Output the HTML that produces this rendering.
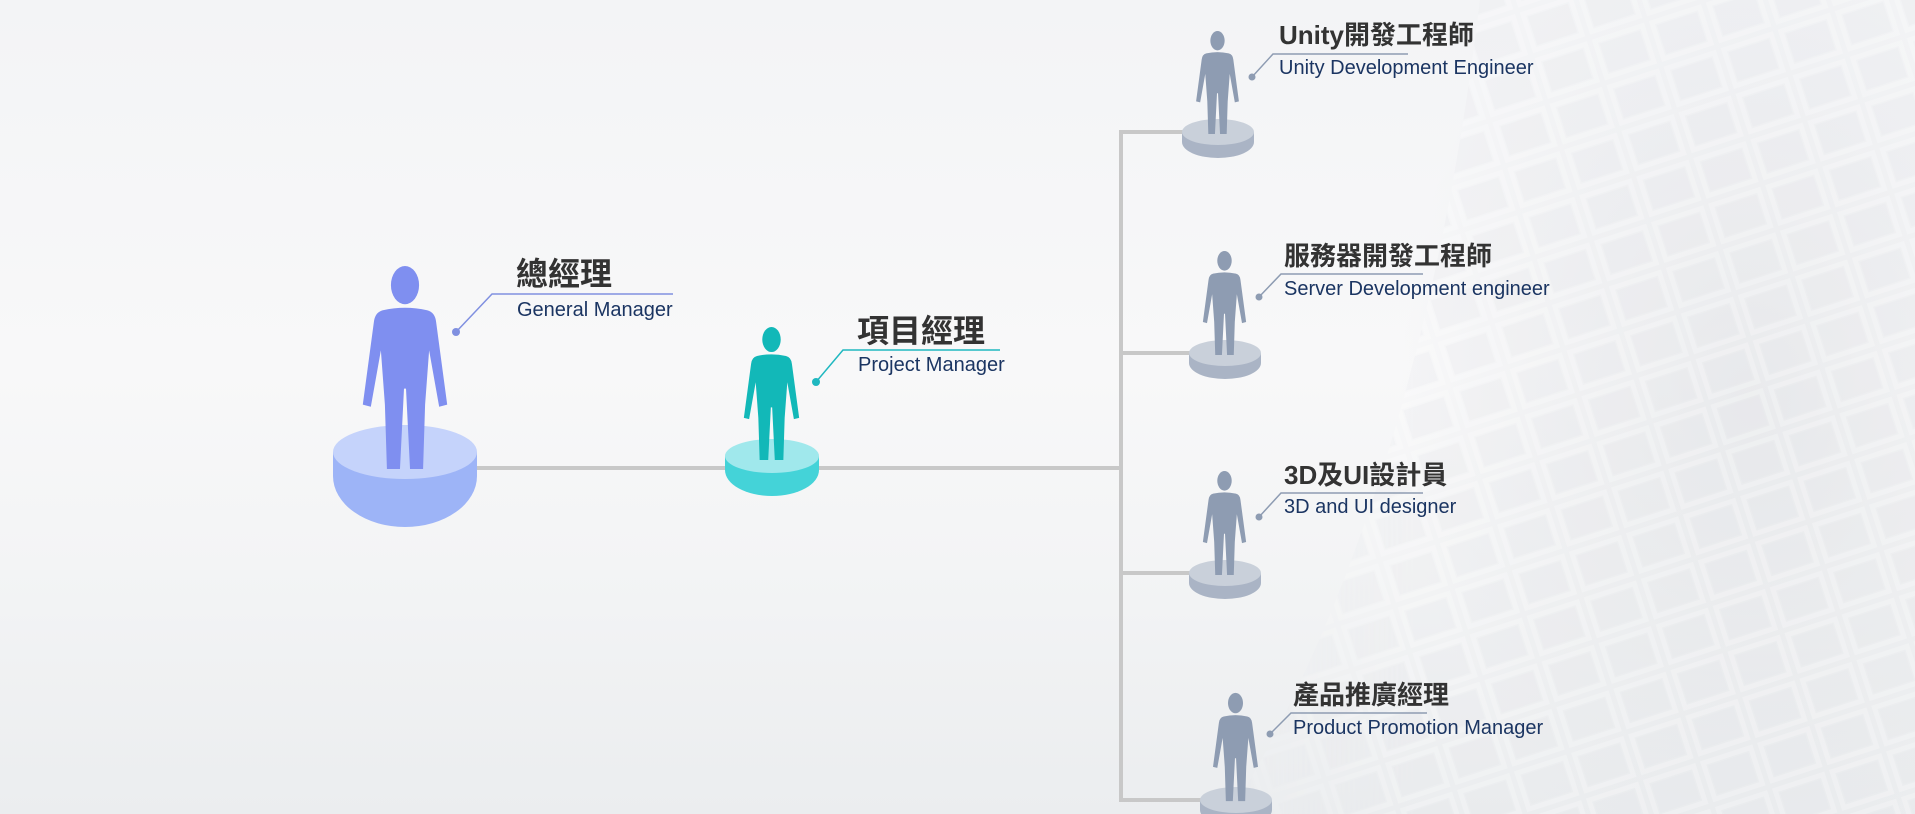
<!DOCTYPE html>
<html><head><meta charset="utf-8"><style>
html,body{margin:0;padding:0;}
body{width:1915px;height:814px;overflow:hidden;position:relative;
background:
radial-gradient(ellipse 500px 700px at 1750px 400px, rgba(215,218,222,0.45), rgba(230,232,235,0) 70%),
linear-gradient(180deg,#f3f4f6 0%,#f8f8f9 45%,#f3f4f5 70%,#ebedef 100%);
font-family:"Liberation Sans","Noto Sans CJK TC",sans-serif;}
svg{position:absolute;left:0;top:0}
.t{font-family:"Liberation Sans","Noto Sans CJK TC",sans-serif;font-weight:bold;fill:#333}
.s{font-family:"Liberation Sans","Noto Sans CJK TC",sans-serif;fill:#1b3562}
</style></head><body>
<svg width="1915" height="814" viewBox="0 0 1915 814">
<defs>
<pattern id="bld" width="60" height="48" patternUnits="userSpaceOnUse" patternTransform="rotate(-18)">
<rect x="4" y="4" width="50" height="38" fill="none" stroke="#ffffff" stroke-width="5" opacity="0.7"/>
<rect x="8" y="8" width="42" height="30" fill="#e2e4e8" opacity="0.5"/>
</pattern>
<linearGradient id="fade" x1="0" y1="0" x2="1" y2="0">
<stop offset="0" stop-color="#fff" stop-opacity="0"/><stop offset="0.3" stop-color="#fff" stop-opacity="1"/>
</linearGradient>
<mask id="m"><rect x="1200" y="0" width="715" height="814" fill="url(#fade)"/></mask>
<symbol id="p" viewBox="0 0 84 202">
<ellipse cx="42" cy="19" rx="14" ry="19"/>
<path d="M20 44 Q42 39 64 44 Q72 46 73 56 L84 138 L76 140 L66 84 L62 138 L60 202 L47 202 L43 122 L41 122 L37 202 L24 202 L22 138 L18 84 L8 140 L0 138 L11 56 Q12 46 20 44 Z"/>
</symbol>
</defs>
<g mask="url(#m)"><path d="M1480 0 L1915 0 L1915 814 L1230 814 Q1420 500 1480 0 Z" fill="url(#bld)" opacity="0.35"/></g>
<!-- connectors -->
<g stroke="#c8c8c8" stroke-width="4" fill="none">
<line x1="470" y1="468" x2="1121" y2="468"/>
<line x1="1121" y1="132" x2="1121" y2="802"/>
<line x1="1119" y1="132" x2="1200" y2="132"/>
<line x1="1119" y1="353" x2="1200" y2="353"/>
<line x1="1119" y1="573" x2="1200" y2="573"/>
<line x1="1119" y1="800" x2="1210" y2="800"/>
</g>
<!-- GM -->
<ellipse cx="405" cy="476" rx="72" ry="51" fill="#9db4f7"/>
<rect x="333" y="452" width="144" height="24" fill="#9db4f7"/>
<ellipse cx="405" cy="452" rx="72" ry="27" fill="#c5d3fb"/>
<use href="#p" x="361" y="266" width="88" height="203" fill="#7f8ff0"/>
<!-- PM -->
<ellipse cx="772" cy="470" rx="47" ry="26" fill="#44d3d8"/>
<rect x="725" y="456" width="94" height="14" fill="#44d3d8"/>
<ellipse cx="772" cy="456" rx="47" ry="17" fill="#a0e8ec"/>
<use href="#p" x="743" y="327" width="57" height="133" fill="#12b8b8"/>
<!-- small -->
<g fill="#aab4c5">
<ellipse cx="1218" cy="142" rx="36" ry="16"/><rect x="1182" y="132" width="72" height="10"/>
<ellipse cx="1225" cy="363" rx="36" ry="16"/><rect x="1189" y="353" width="72" height="10"/>
<ellipse cx="1225" cy="583" rx="36" ry="16"/><rect x="1189" y="573" width="72" height="10"/>
<ellipse cx="1236" cy="810" rx="36" ry="16"/><rect x="1200" y="800" width="72" height="10"/>
</g>
<g fill="#c9d0da">
<ellipse cx="1218" cy="132" rx="36" ry="13"/>
<ellipse cx="1225" cy="353" rx="36" ry="13"/>
<ellipse cx="1225" cy="573" rx="36" ry="13"/>
<ellipse cx="1236" cy="800" rx="36" ry="13"/>
</g>
<g fill="#8e9cb2">
<use href="#p" x="1195" y="31" width="45" height="103"/>
<use href="#p" x="1202" y="251" width="45" height="104"/>
<use href="#p" x="1202" y="471" width="45" height="104"/>
<use href="#p" x="1213" y="692" width="45" height="110"/>
</g>
<!-- leaders -->
<g fill="none" stroke-width="1.5">
<path d="M456 332 L492 294 L673 294" stroke="#8090e0"/>
<path d="M816 382 L843 350 L1000 350" stroke="#20b8c0"/>
<path d="M1252 77 L1273 54 L1408 54" stroke="#8e9cb2"/>
<path d="M1259 297 L1281 274 L1423 274" stroke="#8e9cb2"/>
<path d="M1259 517 L1281 493 L1423 493" stroke="#8e9cb2"/>
<path d="M1270 734 L1291 713 L1427 713" stroke="#8e9cb2"/>
</g>
<circle cx="456" cy="332" r="4" fill="#8090e0"/>
<circle cx="816" cy="382" r="4" fill="#20b8c0"/>
<g fill="#8e9cb2">
<circle cx="1252" cy="77" r="3.5"/><circle cx="1259" cy="297" r="3.5"/>
<circle cx="1259" cy="517" r="3.5"/><circle cx="1270" cy="734" r="3.5"/>
</g>
<!-- labels -->
<text class="t" x="516" y="285" font-size="32">總經理</text>
<text class="s" x="517" y="316" font-size="20">General Manager</text>
<text class="t" x="857" y="342" font-size="32">項目經理</text>
<text class="s" x="858" y="371" font-size="20">Project Manager</text>
<text class="t" x="1279" y="44" font-size="26">Unity開發工程師</text>
<text class="s" x="1279" y="74" font-size="20">Unity Development Engineer</text>
<text class="t" x="1284" y="265" font-size="26">服務器開發工程師</text>
<text class="s" x="1284" y="295" font-size="20">Server Development engineer</text>
<text class="t" x="1284" y="484" font-size="26">3D及UI設計員</text>
<text class="s" x="1284" y="513" font-size="20">3D and UI designer</text>
<text class="t" x="1293" y="704" font-size="26">產品推廣經理</text>
<text class="s" x="1293" y="734" font-size="20">Product Promotion Manager</text>
</svg>
</body></html>
